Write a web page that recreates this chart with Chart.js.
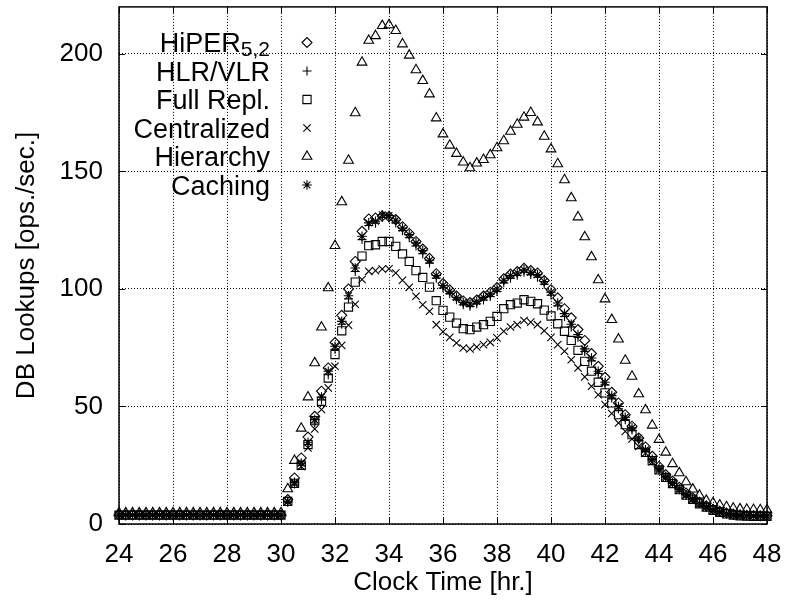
<!DOCTYPE html>
<html lang="en">
<head>
<meta charset="UTF-8">
<title>DB Lookups over Clock Time</title>
<script src="https://cdn.jsdelivr.net/npm/chart.js"></script>
<style>
  html, body { margin: 0; padding: 0; background: #fff; }
</style>
</head>
<body>
<canvas id="lookupChart" width="788" height="601"></canvas>
<script>
// clock time in hours, one sample every 15 minutes
const hours = [
  24, 24.25, 24.5, 24.75, 25, 25.25, 25.5, 25.75,
  26, 26.25, 26.5, 26.75, 27, 27.25, 27.5, 27.75,
  28, 28.25, 28.5, 28.75, 29, 29.25, 29.5, 29.75,
  30, 30.25, 30.5, 30.75, 31, 31.25, 31.5, 31.75,
  32, 32.25, 32.5, 32.75, 33, 33.25, 33.5, 33.75,
  34, 34.25, 34.5, 34.75, 35, 35.25, 35.5, 35.75,
  36, 36.25, 36.5, 36.75, 37, 37.25, 37.5, 37.75,
  38, 38.25, 38.5, 38.75, 39, 39.25, 39.5, 39.75,
  40, 40.25, 40.5, 40.75, 41, 41.25, 41.5, 41.75,
  42, 42.25, 42.5, 42.75, 43, 43.25, 43.5, 43.75,
  44, 44.25, 44.5, 44.75, 45, 45.25, 45.5, 45.75,
  46, 46.25, 46.5, 46.75, 47, 47.25, 47.5, 47.75,
  48
];

// DB lookups [ops./sec.] per scheme
const hiper = [
  3.8, 3.8, 3.8, 3.8, 3.8, 3.8, 3.8, 3.8,
  3.8, 3.8, 3.8, 3.8, 3.8, 3.8, 3.8, 3.8,
  3.8, 3.8, 3.8, 3.8, 3.8, 3.8, 3.8, 3.8,
  3.8, 10.4, 19.6, 28.1, 37, 45.8, 56.5, 66.4,
  77.2, 88.8, 100, 111.7, 124.5, 129.8, 130.2, 131,
  130.8, 129.5, 126.5, 123.6, 120.2, 117, 113, 106.5,
  102.3, 99.6, 97, 94.9, 94.2, 95.3, 97, 98.5,
  100.6, 104.3, 106.3, 107.4, 108.8, 107.8, 106.8, 103.6,
  99.7, 96.2, 91.6, 87.7, 82.7, 78.1, 72.5, 67.1,
  62.4, 56, 51.5, 46.5, 41.6, 36.6, 32.8, 28.8,
  24.5, 21, 18.3, 15.6, 13.2, 11.2, 9.2, 7.7,
  6.3, 5.4, 4.7, 4.2, 3.9, 3.7, 3.6, 3.5,
  3.5
];

const hlrVlr = [
  3.8, 3.8, 3.8, 3.8, 3.8, 3.8, 3.8, 3.8,
  3.8, 3.8, 3.8, 3.8, 3.8, 3.8, 3.8, 3.8,
  3.8, 3.8, 3.8, 3.8, 3.8, 3.8, 3.8, 3.8,
  3.8, 9.3, 17, 25, 33.8, 43, 52.8, 63.5,
  74.3, 85, 95.8, 107.4, 121, 127, 128, 130.4,
  130.2, 128.1, 124.8, 121.8, 118.3, 115, 111, 104.6,
  100.4, 98, 95.4, 93.3, 92.6, 93.7, 95.3, 96.8,
  98.9, 102.6, 104.6, 105.8, 107.1, 106.1, 105, 102,
  97.3, 92.8, 88.3, 83.8, 79.4, 73.4, 69.4, 64,
  59.2, 53.6, 49, 44.4, 40, 35.7, 30.9, 26.9,
  23, 19.9, 17.2, 14.7, 12.4, 10.6, 8.7, 7.3,
  5.9, 5.1, 4.4, 3.9, 3.6, 3.5, 3.4, 3.4,
  3.4
];

const fullRepl = [
  3.8, 3.8, 3.8, 3.8, 3.8, 3.8, 3.8, 3.8,
  3.8, 3.8, 3.8, 3.8, 3.8, 3.8, 3.8, 3.8,
  3.8, 3.8, 3.8, 3.8, 3.8, 3.8, 3.8, 3.8,
  3.8, 9.6, 17.3, 25, 33.8, 44, 52.2, 62.1,
  72.1, 82.2, 92.3, 102.9, 114, 118.4, 118.8, 120.2,
  120.2, 118.1, 114.9, 111.7, 107.8, 104.9, 100.8, 95,
  90.9, 88, 85.5, 83.1, 82.7, 83.8, 84.8, 86.2,
  88.3, 91.6, 93.3, 94, 95.4, 94.7, 93.7, 91,
  88.5, 85.2, 82, 78.1, 73.9, 69.2, 65, 60.3,
  55.8, 51.5, 46.5, 42.3, 38, 33.8, 30.5, 27,
  23, 19.8, 17.2, 14.6, 12.3, 10.5, 8.6, 7.2,
  5.8, 5, 4.3, 3.8, 3.5, 3.4, 3.3, 3.3,
  3.3
];

const centralized = [
  3.8, 3.8, 3.8, 3.8, 3.8, 3.8, 3.8, 3.8,
  3.8, 3.8, 3.8, 3.8, 3.8, 3.8, 3.8, 3.8,
  3.8, 3.8, 3.8, 3.8, 3.8, 3.8, 3.8, 3.8,
  3.8, 9.5, 17, 24.5, 32.4, 40.4, 48.7, 57.9,
  67.1, 76, 84.6, 93.5, 104, 107.5, 107.8, 108.5,
  108.6, 106.8, 103.7, 100.7, 96.9, 93.3, 90.5, 84.8,
  81.8, 79.4, 77, 74.9, 74.5, 75.3, 76.3, 77.3,
  79.2, 82, 83.8, 84.8, 86.6, 85.9, 84.8, 82.2,
  79.4, 76.3, 73.5, 69.9, 66.4, 62.6, 58.6, 55,
  50.8, 47, 43, 39.4, 36.2, 33, 30.2, 26.5,
  22.8, 19.6, 17, 14.4, 12.2, 10.4, 8.5, 7.1,
  5.7, 4.9, 4.2, 3.8, 3.5, 3.4, 3.3, 3.3,
  3.3
];

const hierarchy = [
  4.7, 4.7, 4.7, 4.7, 4.7, 4.7, 4.7, 4.7,
  4.7, 4.7, 4.7, 4.7, 4.7, 4.7, 4.7, 4.7,
  4.7, 4.7, 4.7, 4.7, 4.7, 4.7, 4.7, 4.7,
  4.7, 14.9, 27, 40.7, 54, 68.5, 83.7, 100.4,
  118.4, 137, 154.7, 174.9, 196.4, 205.7, 207.7, 212,
  212.3, 209.9, 204.2, 199.4, 193.2, 188.6, 182.9, 172.7,
  165.9, 161.1, 157.6, 153.9, 151.5, 153.5, 155, 157,
  160, 163, 167, 170, 173, 175, 171, 164.9,
  159.5, 153.2, 146.4, 138.7, 130.6, 122.1, 113.6, 103.8,
  95.7, 86.9, 78.6, 69.6, 62.8, 55.3, 48.5, 42,
  35.9, 30.5, 25.6, 21.7, 17.9, 14.8, 12.2, 10,
  9, 8, 7.3, 6.7, 6.4, 6.2, 6.1, 6,
  6
];

const caching = [
  3.8, 3.8, 3.8, 3.8, 3.8, 3.8, 3.8, 3.8,
  3.8, 3.8, 3.8, 3.8, 3.8, 3.8, 3.8, 3.8,
  3.8, 3.8, 3.8, 3.8, 3.8, 3.8, 3.8, 3.8,
  3.8, 9.7, 17.7, 25.9, 34.8, 44.4, 54, 65,
  75.6, 86.2, 97.1, 108.9, 122.4, 128.1, 128.8, 131.6,
  131.2, 129.2, 125.9, 123.1, 119.6, 116.3, 112.2, 105.7,
  101.5, 99, 96.4, 94.3, 93.6, 94.7, 96.4, 97.9,
  100, 103.7, 105.7, 106.8, 108.2, 107.1, 106.1, 103.2,
  98.6, 94, 89.5, 85, 80.6, 74.5, 70.6, 65,
  60.3, 54.6, 50, 45.4, 40.9, 36.6, 31.6, 27.5,
  23.5, 20.3, 17.6, 15, 12.6, 10.8, 8.8, 7.4,
  6, 5.2, 4.5, 4, 3.7, 3.6, 3.5, 3.4,
  3.4
];

const xTicks = [24, 26, 28, 30, 32, 34, 36, 38, 40, 42, 44, 46, 48];
const yTicks = [0, 50, 100, 150, 200];

const FONT = '"Liberation Sans", Arial, Helvetica, sans-serif';

function series(label, values, pointStyle, radius, order, sub) {
  return {
    label: label,
    keySub: sub || '',
    data: hours.map((h, i) => ({ x: h, y: values[i] })),
    pointStyle: pointStyle,
    pointRadius: radius,
    pointHoverRadius: radius,
    pointBorderWidth: 1.1,
    borderColor: '#000',
    backgroundColor: 'rgba(0,0,0,0)',
    showLine: false,
    clip: false,
    order: order
  };
}

// key drawn inside the plot: right-aligned text, symbol to its right
const insideKey = {
  id: 'insideKey',
  afterDatasetsDraw(chart) {
    const ctx = chart.ctx;
    const textRight = 270, markX = 307, firstRow = 42.5, rowStep = 28.5;
    chart.data.datasets.forEach((ds, i) => {
      const y = firstRow + i * rowStep;
      const base = y + 9.7;
      ctx.save();
      ctx.fillStyle = '#000';
      ctx.textBaseline = 'alphabetic';
      ctx.textAlign = 'right';
      let right = textRight;
      if (ds.keySub) {
        ctx.font = '21px ' + FONT;
        ctx.fillText(ds.keySub, right, base + 3.5);
        right -= ctx.measureText(ds.keySub).width;
      }
      ctx.font = '27px ' + FONT;
      ctx.fillText(ds.label, right, base);
      ctx.strokeStyle = '#000';
      ctx.fillStyle = 'rgba(0,0,0,0)';
      ctx.lineWidth = 1.1;
      Chart.helpers.drawPoint(ctx, {
        pointStyle: ds.pointStyle, radius: ds.pointRadius, rotation: 0, borderWidth: 1.1
      }, markX, y);
      ctx.restore();
    });
  }
};

// solid frame round the plot with inward tick marks on all four sides
const plotFrame = {
  id: 'plotFrame',
  beforeDatasetsDraw(chart) {
    const { ctx, chartArea: a, scales } = chart;
    ctx.save();
    ctx.strokeStyle = '#000';
    ctx.lineWidth = 1;
    ctx.beginPath();
    xTicks.forEach(v => {
      const px = Math.round(scales.x.getPixelForValue(v)) + 0.5;
      ctx.moveTo(px, a.bottom); ctx.lineTo(px, a.bottom - 6);
      ctx.moveTo(px, a.top); ctx.lineTo(px, a.top + 6);
    });
    yTicks.forEach(v => {
      const py = Math.round(scales.y.getPixelForValue(v)) + 0.5;
      ctx.moveTo(a.left, py); ctx.lineTo(a.left + 6, py);
      ctx.moveTo(a.right, py); ctx.lineTo(a.right - 6, py);
    });
    ctx.stroke();
    ctx.lineWidth = 1.5;
    ctx.strokeRect(a.left, a.top, a.right - a.left, a.bottom - a.top);
    ctx.restore();
  }
};

const ctx = document.getElementById('lookupChart').getContext('2d');
new Chart(ctx, {
  type: 'scatter',
  data: {
    datasets: [
      series('HiPER', hiper, 'rectRot', 5, 5, '5,2'),
      series('HLR/VLR', hlrVlr, 'cross', 4.5, 4),
      series('Full Repl.', fullRepl, 'rect', 5.8, 3),
      series('Centralized', centralized, 'crossRot', 5.2, 2),
      series('Hierarchy', hierarchy, 'triangle', 5.6, 1),
      series('Caching', caching, 'star', 4.8, 0)
    ]
  },
  options: {
    responsive: false,
    animation: false,
    devicePixelRatio: 1,
    layout: { padding: { top: 6, right: 21, left: 0, bottom: 0 } },
    plugins: {
      legend: { display: false },
      tooltip: { enabled: false }
    },
    scales: {
      x: {
        type: 'linear',
        min: 24,
        max: 48,
        afterBuildTicks: scale => { scale.ticks = xTicks.map(v => ({ value: v })); },
        afterFit: scale => {
          scale.height = 77;
          scale.paddingLeft = 0;
          scale.paddingRight = 0;
        },
        ticks: { color: '#000', font: { family: FONT, size: 26 }, padding: 15, maxRotation: 0 },
        grid: { color: '#000', lineWidth: 1, drawTicks: false },
        border: { display: false, dash: [1, 2] },
        title: {
          display: true,
          text: 'Clock Time [hr.]',
          color: '#000',
          font: { family: FONT, size: 26 },
          padding: { top: 0, bottom: 3 }
        }
      },
      y: {
        type: 'linear',
        min: 0,
        max: 220,
        afterBuildTicks: scale => { scale.ticks = yTicks.map(v => ({ value: v })); },
        afterFit: scale => {
          scale.width = 119;
          scale.paddingTop = 0;
          scale.paddingBottom = 0;
        },
        ticks: { color: '#000', font: { family: FONT, size: 26 }, padding: 16 },
        grid: { color: '#000', lineWidth: 1, drawTicks: false },
        border: { display: false, dash: [1, 2] },
        title: {
          display: true,
          text: 'DB Lookups [ops./sec.]',
          color: '#000',
          font: { family: FONT, size: 26 },
          padding: { top: 11, bottom: 0 }
        }
      }
    }
  },
  plugins: [plotFrame, insideKey]
});
</script>
</body>
</html>
